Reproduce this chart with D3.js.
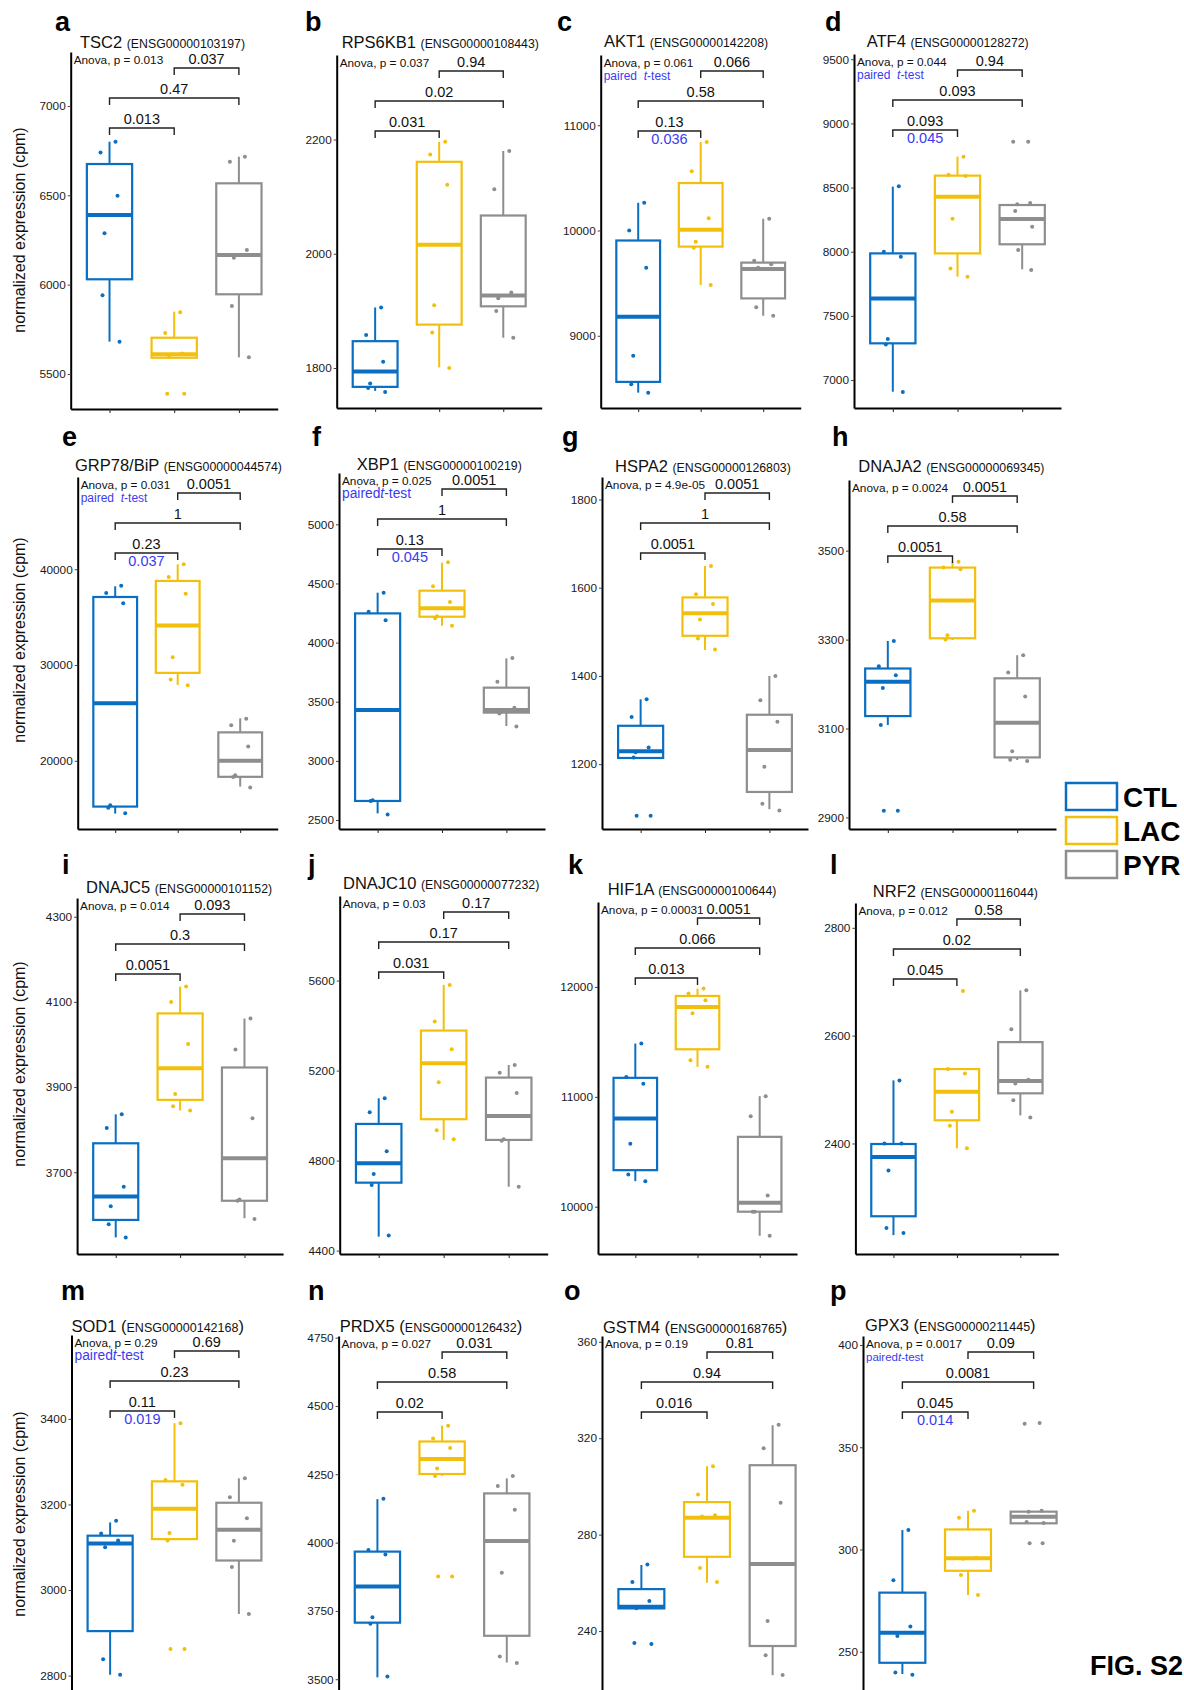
<!DOCTYPE html>
<meta charset="utf-8">
<html>
<head>
<style>
  body { margin: 0; background: #fff; font-family: "Liberation Sans", Arial, sans-serif; }
  svg { display: block; }
  .yaxis .tick text { font-size: 11.8px; fill: #1a1a1a; }
  .yaxis .tick line { stroke: #444; }
  .yaxis .domain, .xaxis .domain { stroke: #000; stroke-width: 2px; }
  .xaxis .tick line { stroke: #222; }
</style>
</head>
<body>
<svg width="1184" height="1690"></svg>
<script src="https://d3js.org/d3.v7.min.js"></script>
<script>
  const groups = ["CTL", "LAC", "PYR"];
  const colors = ["#0a6fc2", "#f2c00c", "#8e8e8e"];

  const letters = ["a","b","c","d","e","f","g","h","i","j","k","l","m","n","o","p"];
  const genes = ["TSC2","RPS6KB1","AKT1","ATF4","GRP78/BiP","XBP1","HSPA2","DNAJA2",
                 "DNAJC5","DNAJC10","HIF1A","NRF2","SOD1","PRDX5","GSTM4","GPX3"];
  const ensembl = ["ENSG00000103197","ENSG00000108443","ENSG00000142208","ENSG00000128272",
                   "ENSG00000044574","ENSG00000100219","ENSG00000126803","ENSG00000069345",
                   "ENSG00000101152","ENSG00000077232","ENSG00000100644","ENSG00000116044",
                   "ENSG00000142168","ENSG00000126432","ENSG00000168765","ENSG00000211445"];
  const anovaP = ["0.013","0.037","0.061","0.044","0.031","0.025","4.9e-05","0.0024",
                  "0.014","0.03","0.00031","0.012","0.29","0.027","0.19","0.0017"];
  // pairwise p values: LAC vs PYR, CTL vs PYR, CTL vs LAC
  const pLacPyr = ["0.037","0.94","0.066","0.94","0.0051","0.0051","0.0051","0.0051",
                   "0.093","0.17","0.0051","0.58","0.69","0.031","0.81","0.09"];
  const pCtlPyr = ["0.47","0.02","0.58","0.093","1","1","1","0.58",
                   "0.3","0.17","0.066","0.02","0.23","0.58","0.94","0.0081"];
  const pCtlLac = ["0.013","0.031","0.13","0.093","0.23","0.13","0.0051","0.0051",
                   "0.0051","0.031","0.013","0.045","0.11","0.02","0.016","0.045"];
  // paired t-test CTL vs LAC (blue), null when not shown
  const pPaired = [null,null,"0.036","0.045","0.037","0.045",null,null,
                   null,null,null,null,"0.019",null,null,"0.014"];

  const yTicks = [
    [5500,6000,6500,7000],[1800,2000,2200],[9000,10000,11000],[7000,7500,8000,8500,9000,9500],
    [20000,30000,40000],[2500,3000,3500,4000,4500,5000],[1200,1400,1600,1800],[2900,3100,3300,3500],
    [3700,3900,4100,4300],[4400,4800,5200,5600],[10000,11000,12000],[2400,2600,2800],
    [2800,3000,3200,3400],[3500,3750,4000,4250,4500,4750],[240,280,320,360],[250,300,350,400]
  ];
  const yDomains = [
    [5304,7302],[1730,2348],[8314,11667],[6782,9541],
    [12880,49630],[2424,5434],[1053,1851],[2874,3659],
    [3508,4344],[4385,5976],[9570,12773],[2195,2846],
    [2743,3596],[3424,4756],[211.4,362.4],[226.4,404.4]
  ];

  // box stats per group: [lower whisker, q1, median, q3, upper whisker]
  const boxStats = [
    [[5681,6030,6390,6675,6800],[5591,5591,5610,5703,5849],[5593,5946,6166,6567,6716]],
    [[1760,1767,1794,1847,1906],[1801,1876,2016,2161,2196],[1853,1908,1927,2067,2180]],
    [[8460,8562,9181,9905,10263],[9482,9847,10006,10451,10841],[9190,9355,9635,9695,10111]],
    [[6909,7286,7636,7987,8507],[7805,7987,8429,8593,8741],[7863,8058,8255,8364,8364]],
    [[14488,15221,26005,37103,38220],[27925,29181,34137,38778,40523],[17315,18327,20000,22969,24434]],
    [[2556,2661,3430,4247,4422],[4143,4219,4290,4439,4676],[3295,3408,3430,3619,3867]],
    [[1214,1214,1229,1287,1347],[1459,1491,1542,1578,1649],[1098,1137,1232,1312,1400]],
    [[3108,3128,3205,3235,3297],[3299,3303,3388,3462,3475],[3029,3035,3113,3213,3265]],
    [[3547,3588,3643,3768,3836],[3845,3870,3944,4073,4136],[3592,3633,3733,3946,4061]],
    [[4462,4702,4788,4963,5077],[4892,4984,5233,5378,5581],[4684,4892,4998,5169,5225]],
    [[10233,10333,10803,11173,11485],[11273,11433,11818,11918,11985],[9736,9955,10036,10636,11006]],
    [[2230,2265,2375,2399,2517],[2391,2443,2496,2538,2538],[2452,2493,2516,2588,2684]],
    [[2802,2904,3109,3127,3158],[3119,3119,3190,3254,3390],[2944,3069,3141,3204,3261]],
    [[3507,3707,3839,3967,4159],[4244,4251,4306,4370,4428],[3561,3659,4006,4180,4235]],
    [[249.4,249.4,250.1,257.4,267.4],[260.0,270.8,287.0,293.5,308.4],[221.7,233.8,267.8,308.8,325.4]],
    [[239.1,244.6,259.3,278.9,309.5],[277.7,289.6,295.7,309.8,319.0],[312.8,312.8,316.0,318.5,318.5]]
  ];

  // individual samples per group
  const samples = [
    [[6800,6739,6498,6287,5940,5681],[5845,5730,5615,5595,5390,5390],[6716,6688,6194,6151,5880,5593]],
    [[1906,1858,1811,1773,1765,1758],[2196,2174,2121,1910,1862,1800],[2180,2113,1932,1922,1900,1853]],
    [[10263,10000,9645,8810,8540,8460],[10841,10562,10117,9892,9835,9482],[10111,9712,9680,9645,9270,9190]],
    [[8510,7999,7960,7320,7276,6906],[8741,8600,8590,8257,7870,7805],[8858,8858,8380,8370,8318,8195,8013,7857]],
    [[38280,37520,36460,15360,15100,14520],[40520,39190,37450,30820,28490,27890],[24400,23700,21500,18500,18300,17200]],
    [[4422,4260,4189,2668,2660,2547],[4679,4476,4344,4223,4205,4143],[3870,3670,3450,3415,3400,3290]],
    [[1347,1307,1238,1227,1215,1083,1083],[1649,1585,1563,1528,1485,1460],[1400,1345,1296,1194,1110,1095]],
    [[3297,3240,3220,3191,3108,2915,2915],[3475,3462,3458,3310,3300],[3265,3226,3172,3049,3030,3027]],
    [[3836,3804,3666,3620,3578,3547],[4136,4100,4001,3884,3855,3845],[4061,3988,3827,3636,3633,3590]],
    [[5077,5015,4842,4741,4692,4467],[5581,5418,5295,5148,4935,4895],[5225,5190,5100,4895,4888,4684]],
    [[11485,11180,11120,10573,10294,10233],[11985,11940,11880,11760,11333,11273],[11006,10824,10103,9955,9955,9736]],
    [[2517,2400,2400,2350,2243,2234],[2683,2538,2530,2459,2433,2391],[2684,2612,2518,2511,2480,2448]],
    [[3162,3132,3116,3100,2838,2802],[3390,3257,3246,3133,3116,2862,2862],[3261,3217,3168,3115,3054,2944]],
    [[4160,3973,3956,3727,3703,3510],[4428,4381,4346,4271,4244,3876,3876],[4244,4207,4120,3890,3583,3559]],
    [[267.6,260.4,252.5,249.5,235.0,234.6],[308.4,296.7,288.0,287.5,266.2,260.3],[325.6,315.8,293.2,244.2,230.0,221.8]],
    [[309.5,284.9,262.4,257.7,239.8,238.8],[319.0,315.5,296.0,295.5,287.5,277.7],[361.8,361.5,319.0,318.5,313.5,313.0,303.0,303.0]]
  ];

  // panel placement (pixels): axis x, axis width, top, bottom, title, letter
  const layout = [
    {x:70.7, w:207, top:52,  bottom:409, tx:80,    ty:48,  lx:55,  ly:31},
    {x:336.7,w:205, top:55,  bottom:408, tx:341.7, ty:48,  lx:305, ly:31},
    {x:600.7,w:200, top:55,  bottom:408, tx:604,   ty:47,  lx:557, ly:31},
    {x:854,  w:207, top:54,  bottom:408, tx:866.7, ty:47,  lx:825, ly:31},
    {x:77.7, w:200, top:477, bottom:829, tx:75,    ty:471, lx:62,  ly:446},
    {x:339,  w:206, top:473, bottom:829, tx:356.7, ty:470, lx:312, ly:446},
    {x:602,  w:206, top:477, bottom:829, tx:615,   ty:472, lx:562, ly:446},
    {x:849,  w:207, top:480, bottom:829, tx:858.3, ty:472, lx:832, ly:446},
    {x:77.1, w:206, top:898, bottom:1254,tx:86,    ty:893, lx:62,  ly:874},
    {x:339.7,w:208, top:896, bottom:1254,tx:343,   ty:889, lx:308, ly:874},
    {x:598,  w:199, top:902, bottom:1254,tx:607.7, ty:895, lx:568, ly:874},
    {x:855.4,w:203, top:903, bottom:1254,tx:872.8, ty:897, lx:830, ly:874},
    {x:71.5, w:206, top:1335,bottom:1700,tx:71.5,  ty:1332,lx:61,  ly:1300},
    {x:338.6,w:207, top:1336,bottom:1700,tx:339.7, ty:1332,lx:308, ly:1300},
    {x:602,  w:210, top:1336,bottom:1700,tx:603,   ty:1333,lx:564, ly:1300},
    {x:863,  w:210, top:1336,bottom:1700,tx:865,   ty:1331,lx:830, ly:1300}
  ];
  const yLabelCenter = [230, 640, 1064, 1514];
  // font size / text of the "paired t-test" note
  const pairedNote = {2:[12,"paired\u00a0\u00a0"],3:[12,"paired\u00a0\u00a0"],4:[12,"paired\u00a0\u00a0"],
                      5:[13.8,"paired"],12:[13.8,"paired"],15:[11.5,"paired"]};
  const jitterPx = [6,-9,8,-5,-7,10,-4,9];

  const svg = d3.select("svg");
  const blueText = "#3b3bf2";

  layout.forEach((L, i) => {
    const g = svg.append("g");
    const x = d3.scalePoint().domain(groups).range([L.x, L.x + L.w]).padding(0.6);
    const y = d3.scaleLinear().domain(yDomains[i]).range([L.bottom, L.top]);
    const bw = x.step() * 0.7;

    // axes
    g.append("g").attr("class", "yaxis")
      .attr("transform", `translate(${L.x},0)`)
      .call(d3.axisLeft(y).tickValues(yTicks[i]).tickSize(3).tickSizeOuter(0)
        .tickPadding(2).tickFormat(d3.format("d")))
      .call(a => a.selectAll("text").attr("font-family", "Liberation Sans, Arial, sans-serif"));
    g.append("g").attr("class", "xaxis")
      .attr("transform", `translate(0,${L.bottom})`)
      .call(d3.axisBottom(x).tickSize(4).tickSizeOuter(0).tickFormat(""));

    // boxes
    groups.forEach((grp, k) => {
      const [lo, q1, med, q3, hi] = boxStats[i][k];
      const cx = x(grp);
      const c = colors[k];
      const bg = g.append("g");
      bg.append("line").attr("x1", cx).attr("x2", cx).attr("y1", y(q3)).attr("y2", y(hi))
        .attr("stroke", c).attr("stroke-width", 2);
      bg.append("line").attr("x1", cx).attr("x2", cx).attr("y1", y(q1)).attr("y2", y(lo))
        .attr("stroke", c).attr("stroke-width", 2);
      bg.append("rect").attr("x", cx - bw / 2).attr("width", bw)
        .attr("y", y(q3)).attr("height", y(q1) - y(q3))
        .attr("fill", "#fff").attr("stroke", c).attr("stroke-width", 2.2);
      bg.append("line").attr("x1", cx - bw / 2).attr("x2", cx + bw / 2)
        .attr("y1", y(med)).attr("y2", y(med))
        .attr("stroke", c).attr("stroke-width", 4);
      bg.selectAll("circle").data(samples[i][k]).join("circle")
        .attr("cx", (d, j) => cx + jitterPx[j % jitterPx.length])
        .attr("cy", d => y(d))
        .attr("r", 2).attr("fill", c);
    });

    // title
    const big = i >= 12;
    const t = g.append("text").attr("x", L.tx).attr("y", L.ty).attr("fill", "#111");
    t.append("tspan").attr("font-size", 16.5).text(genes[i] + " ");
    if (big) {
      t.append("tspan").attr("font-size", 16.5).text("(");
      t.append("tspan").attr("font-size", 12.5).text(ensembl[i]);
      t.append("tspan").attr("font-size", 16.5).text(")");
    } else {
      t.append("tspan").attr("font-size", 12.3).text("(" + ensembl[i] + ")");
    }

    // panel letter
    g.append("text").attr("x", L.lx).attr("y", L.ly)
      .attr("font-size", 27).attr("font-weight", "bold").text(letters[i]);

    // anova + paired note
    g.append("text").attr("x", L.x + 3).attr("y", L.top + 12)
      .attr("font-size", 11.8).attr("fill", "#111").text(`Anova, p = ${anovaP[i]}`);
    if (pairedNote[i]) {
      const [fs, word] = pairedNote[i];
      const pt = g.append("text").attr("x", L.x + 3).attr("y", L.top + 25)
        .attr("font-size", fs).attr("fill", blueText);
      pt.append("tspan").text(word);
      pt.append("tspan").attr("font-style", "italic").text("t");
      pt.append("tspan").text("-test");
    }

    // comparison brackets
    const bracket = (a, b, yy, label, sub) => {
      const x1 = x(a), x2 = x(b);
      g.append("path")
        .attr("d", `M${x1},${yy + 7}V${yy}H${x2}V${yy + 7}`)
        .attr("fill", "none").attr("stroke", "#222").attr("stroke-width", 1.4);
      g.append("text").attr("x", (x1 + x2) / 2).attr("y", yy - 4)
        .attr("text-anchor", "middle").attr("font-size", 14.5).attr("fill", "#111").text(label);
      if (sub) {
        g.append("text").attr("x", (x1 + x2) / 2).attr("y", yy + 13)
          .attr("text-anchor", "middle").attr("font-size", 14.5).attr("fill", blueText).text(sub);
      }
    };
    bracket("LAC", "PYR", L.top + 16, pLacPyr[i]);
    bracket("CTL", "PYR", L.top + 46, pCtlPyr[i]);
    bracket("CTL", "LAC", L.top + 76, pCtlLac[i], pPaired[i]);

    // y-axis title on first column
    if (i % 4 === 0) {
      const cy = yLabelCenter[i / 4];
      svg.append("text").attr("transform", `translate(21,${cy}) rotate(-90)`)
        .attr("text-anchor", "middle").attr("dominant-baseline", "middle")
        .attr("font-size", 16).attr("fill", "#111").text("normalized expression (cpm)");
    }
  });

  // legend
  const legend = svg.append("g").attr("transform", "translate(1066,783)");
  groups.forEach((grp, k) => {
    const row = legend.append("g").attr("transform", `translate(0,${k * 34})`);
    row.append("rect").attr("width", 51).attr("height", 27)
      .attr("fill", "#fff").attr("stroke", colors[k]).attr("stroke-width", 2.5);
    row.append("text").attr("x", 57).attr("y", 24)
      .attr("font-size", 28).attr("font-weight", "bold").text(grp);
  });

  svg.append("text").attr("x", 1183).attr("y", 1675).attr("text-anchor", "end")
    .attr("font-size", 27).attr("font-weight", "bold").text("FIG. S2");
</script>
</body>
</html>
